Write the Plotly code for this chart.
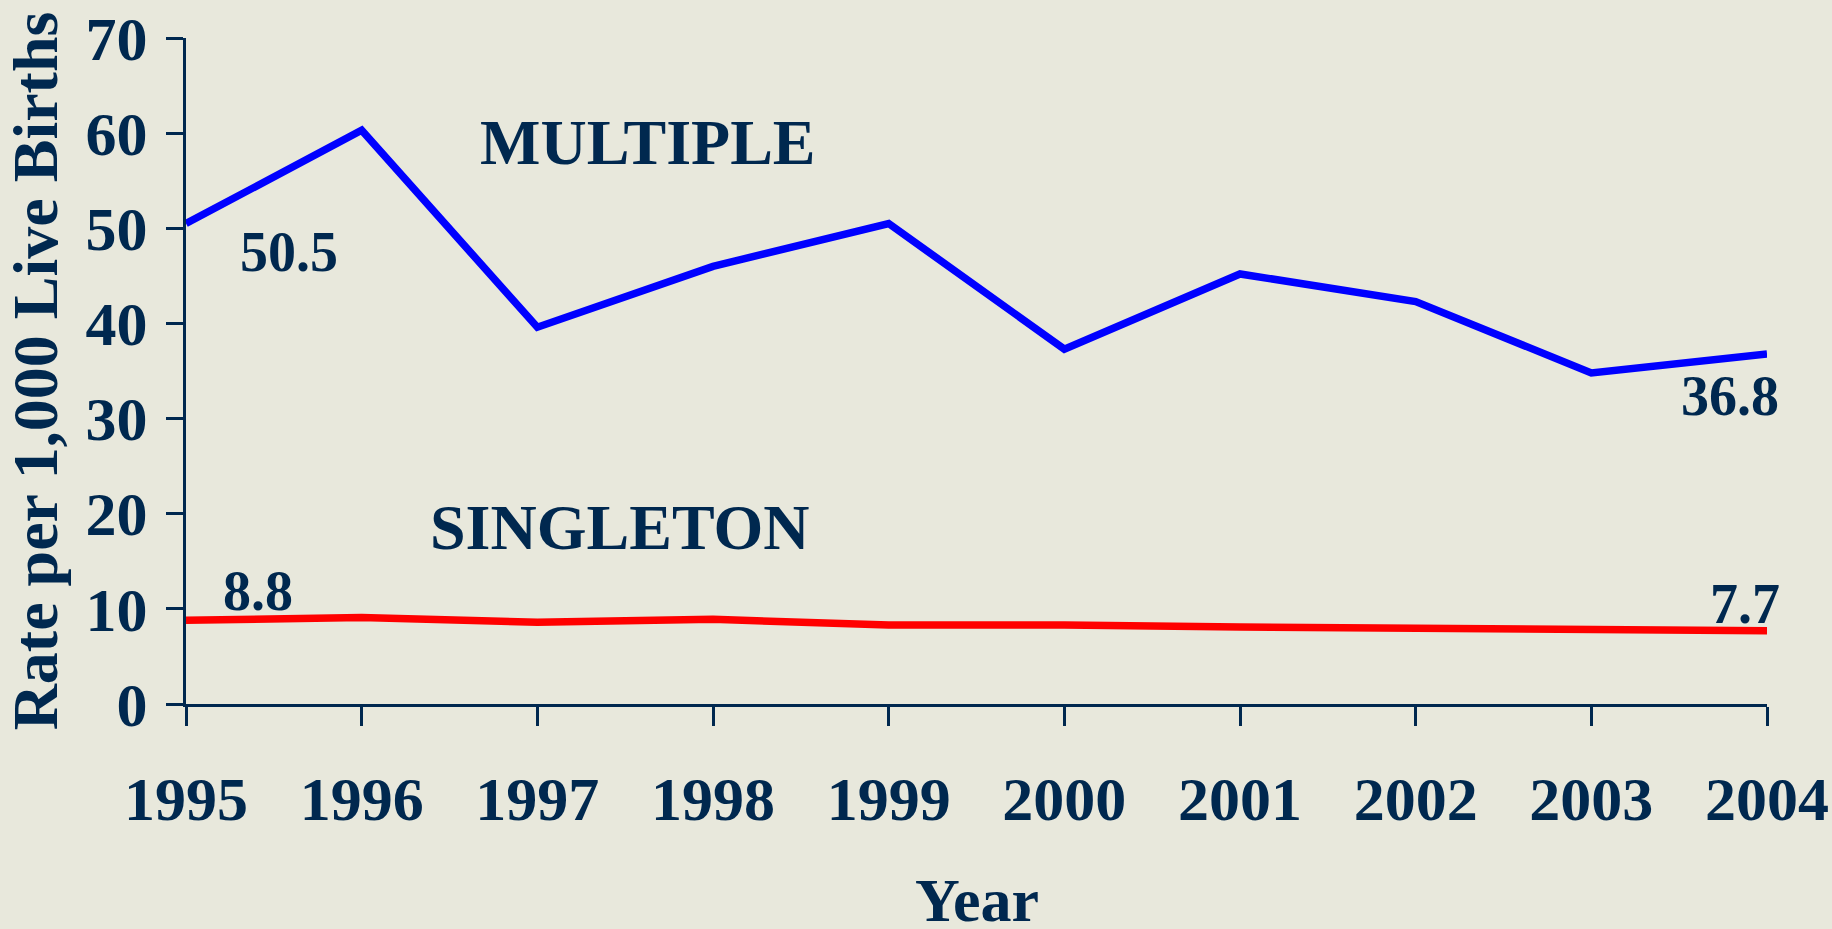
import plotly.graph_objects as go

years = [1995, 1996, 1997, 1998, 1999, 2000, 2001, 2002, 2003, 2004]
multiple = [50.5, 60.3, 39.6, 46.0, 50.5, 37.3, 45.2, 42.3, 34.8, 36.8]
singleton = [8.8, 9.1, 8.6, 8.9, 8.3, 8.3, 8.1, 8.0, 7.8, 7.7]
y_ticks = [0, 10, 20, 30, 40, 50, 60, 70]

NAVY = "#00284f"
BG = "#e8e8dc"
FONT = "Liberation Serif"

fig = go.Figure()
fig.add_trace(go.Scatter(x=years, y=multiple, mode="lines",
                         line=dict(color="#0000ff", width=7.5), name="MULTIPLE",
                         hoverinfo="x+y"))
fig.add_trace(go.Scatter(x=years, y=singleton, mode="lines",
                         line=dict(color="#ff0000", width=7.5), name="SINGLETON",
                         hoverinfo="x+y"))

ann = []
# series labels
ann.append(dict(x=1997.63, y=59.0, text="<b>MULTIPLE</b>", showarrow=False,
                font=dict(family=FONT, size=64, color=NAVY)))
ann.append(dict(x=1997.47, y=18.6, text="<b>SINGLETON</b>", showarrow=False,
                font=dict(family=FONT, size=64, color=NAVY)))
# value labels, placed relative to the first/last data point
vfont = dict(family=FONT, size=56, color=NAVY)
ann.append(dict(x=years[0], y=multiple[0], text=f"<b>{multiple[0]}</b>", showarrow=False,
                xshift=103, yshift=-28, font=vfont))
ann.append(dict(x=years[0], y=singleton[0], text=f"<b>{singleton[0]}</b>", showarrow=False,
                xshift=72, yshift=29, font=vfont))
ann.append(dict(x=years[-1], y=multiple[-1], text=f"<b>{multiple[-1]}</b>", showarrow=False,
                xshift=-37, yshift=-42, font=vfont))
ann.append(dict(x=years[-1], y=singleton[-1], text=f"<b>{singleton[-1]}</b>", showarrow=False,
                xshift=-22, yshift=27, font=vfont))
# x-axis title
ann.append(dict(xref="paper", yref="paper", x=0.5, y=(704 - 900) / 665.5,
                xanchor="center", yanchor="middle", text="<b>Year</b>", showarrow=False,
                font=dict(family=FONT, size=62, color=NAVY)))

fig.update_layout(
    width=1832, height=929,
    paper_bgcolor=BG, plot_bgcolor=BG,
    margin=dict(l=186, r=65, t=38, b=225, pad=0, autoexpand=False),
    showlegend=False,
    font=dict(family=FONT, color=NAVY),
    annotations=ann,
    xaxis=dict(
        range=[1995, 2004], tickmode="array", tickvals=years,
        ticktext=[f"<b>{y}</b>" for y in years],
        showgrid=False, zeroline=False, automargin=False,
        showline=True, linecolor=NAVY, linewidth=3,
        ticks="outside", ticklen=19, tickwidth=2.5, tickcolor=NAVY,
        tickfont=dict(family=FONT, size=62, color=NAVY),
        ticklabelstandoff=20,
    ),
    yaxis=dict(
        range=[0, 70], tickmode="array", tickvals=y_ticks,
        ticktext=[f"<b>{v}</b>" for v in y_ticks],
        showgrid=False, zeroline=False, automargin=False,
        showline=True, linecolor=NAVY, linewidth=3,
        ticks="outside", ticklen=17, tickwidth=2.5, tickcolor=NAVY,
        tickfont=dict(family=FONT, size=62, color=NAVY),
        ticklabelstandoff=6,
        title=dict(text="<b>Rate per 1,000 Live Births</b>", font=dict(family=FONT, size=64, color=NAVY), standoff=22),
    ),
)

fig.write_html("out.html", config={"displayModeBar": False},
               post_script="document.body.style.margin='0';document.body.style.overflow='hidden';")
